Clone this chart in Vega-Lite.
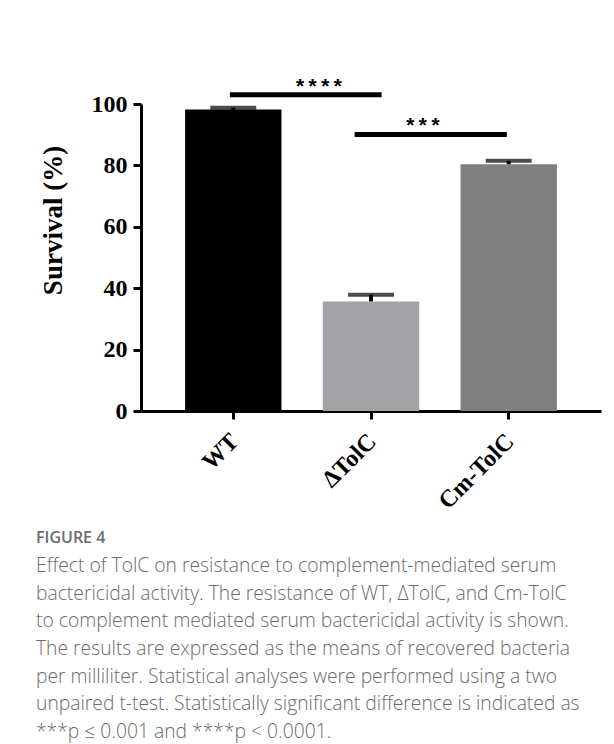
{
  "$schema": "https://vega.github.io/schema/vega-lite/v6.json",
  "width": 460,
  "height": 307,
  "autosize": {"type": "none"},
  "padding": {"left": 141, "top": 104, "right": 13, "bottom": 333},
  "background": "white",
  "datasets": {
    "bars": [
      {"strain": "WT", "mean": 98.2, "upper": 98.8},
      {"strain": "ΔTolC", "mean": 35.7, "upper": 37.9},
      {"strain": "Cm-TolC", "mean": 80.4, "upper": 81.5}
    ],
    "brackets": [
      {"pair": "a", "from": "WT", "to": "ΔTolC", "y": 103.0, "stars": "****"},
      {"pair": "b", "from": "ΔTolC", "to": "Cm-TolC", "y": 90.1, "stars": "***"}
    ]
  },
  "title": {
    "text": "FIGURE 4",
    "subtitle": [
      "Effect of TolC on resistance to complement-mediated serum",
      "bactericidal activity. The resistance of WT, ΔTolC, and Cm-TolC",
      "to complement mediated serum bactericidal activity is shown.",
      "The results are expressed as the means of recovered bacteria",
      "per milliliter. Statistical analyses were performed using a two",
      "unpaired t-test. Statistically significant difference is indicated as",
      "***p ≤ 0.001 and ****p < 0.0001."
    ],
    "orient": "bottom",
    "anchor": "start",
    "frame": "group",
    "dx": -105,
    "offset": 17,
    "font": "Open Sans",
    "fontSize": 16,
    "fontWeight": 600,
    "color": "#6b6b6b",
    "subtitleFont": "Open Sans",
    "subtitleFontSize": 19.3,
    "subtitleFontWeight": 300,
    "subtitleColor": "#6b6b6b",
    "subtitleLineHeight": 27.6,
    "subtitlePadding": 11
  },
  "layer": [
    {
      "data": {"name": "bars"},
      "mark": {"type": "bar"},
      "encoding": {
        "x": {
          "field": "strain", "type": "nominal", "title": null,
          "sort": ["WT", "ΔTolC", "Cm-TolC"],
          "scale": {"domain": ["WT", "ΔTolC", "Cm-TolC"], "paddingInner": 0.3, "paddingOuter": 0.32},
          "axis": {"labelAngle": -45, "labelPadding": 10, "labelOffset": -7}
        },
        "y": {
          "field": "mean", "type": "quantitative", "title": "Survival (%)",
          "scale": {"domain": [0, 100], "nice": false},
          "axis": {"values": [0, 20, 40, 60, 80, 100], "labelPadding": 6, "titleX": -80, "titleY": 116, "titleBaseline": "alphabetic", "titleAlign": "center", "titleAngle": -90}
        },
        "color": {
          "field": "strain", "type": "nominal", "legend": null,
          "scale": {"domain": ["WT", "ΔTolC", "Cm-TolC"], "range": ["#000000", "#a3a3a7", "#808080"]}
        }
      }
    },
    {
      "data": {"name": "bars"},
      "mark": {"type": "rule", "color": "black", "strokeWidth": 4},
      "encoding": {
        "x": {"field": "strain", "type": "nominal", "title": null},
        "y": {"field": "mean", "type": "quantitative", "title": "Survival (%)"},
        "y2": {"field": "upper"}
      }
    },
    {
      "data": {"name": "bars"},
      "mark": {"type": "tick", "color": "black", "size": 46, "thickness": 4, "orient": "horizontal"},
      "encoding": {
        "x": {"field": "strain", "type": "nominal", "title": null},
        "y": {"field": "upper", "type": "quantitative", "title": "Survival (%)"}
      }
    },
    {
      "data": {"name": "brackets"},
      "transform": [{"filter": "datum.pair === 'a'"}],
      "mark": {"type": "rule", "color": "black", "strokeWidth": 5},
      "encoding": {
        "x": {"field": "from", "type": "nominal", "title": null, "bandPosition": 0.465},
        "x2": {"field": "to", "bandPosition": 0.61},
        "y": {"field": "y", "type": "quantitative", "title": "Survival (%)"}
      }
    },
    {
      "data": {"name": "brackets"},
      "transform": [{"filter": "datum.pair === 'b'"}],
      "mark": {"type": "rule", "color": "black", "strokeWidth": 5},
      "encoding": {
        "x": {"field": "from", "type": "nominal", "title": null, "bandPosition": 0.33},
        "x2": {"field": "to", "bandPosition": 0.48},
        "y": {"field": "y", "type": "quantitative", "title": "Survival (%)"}
      }
    },
    {
      "data": {"name": "brackets"},
      "transform": [{"filter": "datum.pair === 'a'"}],
      "mark": {"type": "text", "font": "Liberation Mono", "fontWeight": "bold", "fontSize": 21, "baseline": "alphabetic", "align": "center", "dy": -1},
      "encoding": {
        "x": {"field": "to", "type": "nominal", "title": null, "bandPosition": -0.04},
        "y": {"field": "y", "type": "quantitative", "title": "Survival (%)"},
        "text": {"field": "stars"}
      }
    },
    {
      "data": {"name": "brackets"},
      "transform": [{"filter": "datum.pair === 'b'"}],
      "mark": {"type": "text", "font": "Liberation Mono", "fontWeight": "bold", "fontSize": 21, "baseline": "alphabetic", "align": "center", "dy": -1},
      "encoding": {
        "x": {"field": "to", "type": "nominal", "title": null, "bandPosition": -0.39},
        "y": {"field": "y", "type": "quantitative", "title": "Survival (%)"},
        "text": {"field": "stars"}
      }
    }
  ],
  "config": {
    "view": {"stroke": null},
    "axis": {
      "grid": false,
      "domainColor": "black",
      "domainWidth": 3,
      "tickColor": "black",
      "tickWidth": 3,
      "tickSize": 8,
      "labelFont": "Liberation Serif",
      "labelFontWeight": "bold",
      "labelFontSize": 24,
      "labelColor": "black",
      "titleFont": "Liberation Serif",
      "titleFontWeight": "bold",
      "titleFontSize": 27,
      "titleColor": "black"
    }
  }
}
